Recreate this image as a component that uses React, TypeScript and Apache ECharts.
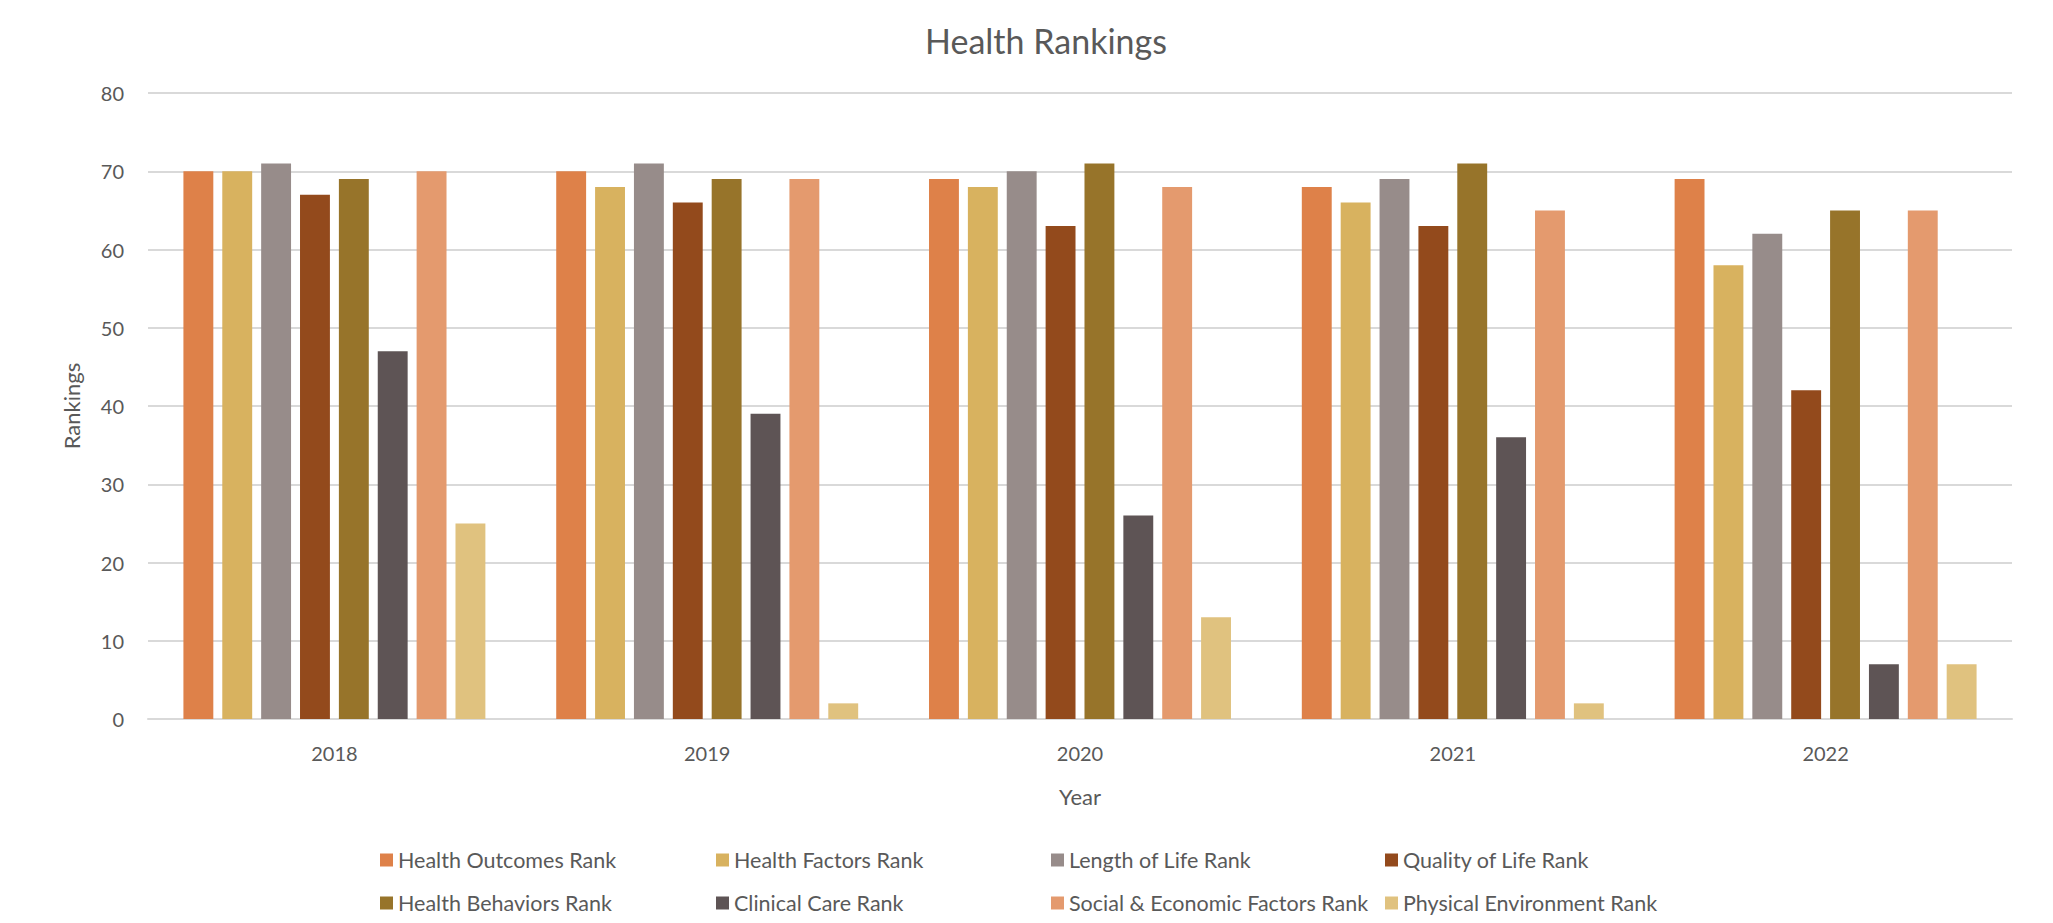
import React, { useEffect, useRef } from "react";
import * as echarts from "echarts";

const years = ["2018", "2019", "2020", "2021", "2022"];
const seriesNames = [
  "Health Outcomes Rank",
  "Health Factors Rank",
  "Length of Life Rank",
  "Quality of Life Rank",
  "Health Behaviors Rank",
  "Clinical Care Rank",
  "Social & Economic Factors Rank",
  "Physical Environment Rank",
];
const healthOutcomes = [70, 70, 69, 68, 69];
const healthFactors = [70, 68, 68, 66, 58];
const lengthOfLife = [71, 71, 70, 69, 62];
const qualityOfLife = [67, 66, 63, 63, 42];
const healthBehaviors = [69, 69, 71, 71, 65];
const clinicalCare = [47, 39, 26, 36, 7];
const socialEconomic = [70, 69, 68, 65, 65];
const physicalEnvironment = [25, 2, 13, 2, 7];
const yTicks = { min: 0, max: 80, interval: 10 };

const colors = ["#DE8149", "#D8B25F", "#978C8A", "#934A1C", "#97742A", "#5E5455", "#E49A6E", "#E0C27F"];
const allData = [healthOutcomes, healthFactors, lengthOfLife, qualityOfLife, healthBehaviors, clinicalCare, socialEconomic, physicalEnvironment];

const FONT = "Lato";
const TXT = "#595959";

export default function App() {
  const ref = useRef<HTMLDivElement>(null);
  useEffect(() => {
    if (!ref.current) return;
    const chart = echarts.init(ref.current, undefined, { renderer: "svg" });
    const legendLefts = [380, 716, 1051, 1385];
    const legendTops = [849, 892];
    const legends = seriesNames.map((n, i) => ({
      data: [n],
      left: legendLefts[i % 4],
      top: legendTops[Math.floor(i / 4)],
      padding: 0,
      itemWidth: 13,
      itemHeight: 13,
      itemGap: 8,
      icon: "rect",
      selectedMode: false,
      textStyle: { fontFamily: FONT, fontSize: 21.5, color: TXT, padding: [0, 0, 0, 0] },
    }));
    chart.setOption({
      animation: false,
      backgroundColor: "#ffffff",
      color: colors,
      title: {
        text: "Health Rankings",
        left: 1041,
        textAlign: "center",
        top: 18,
        textStyle: { fontFamily: FONT, fontSize: 34, fontWeight: "normal", color: TXT },
      },
      legend: legends,
      grid: { left: 148, right: 41, top: 93, bottom: 204, containLabel: false },
      xAxis: {
        type: "category",
        data: years,
        name: "Year",
        nameLocation: "middle",
        nameGap: 66,
        nameTextStyle: { fontFamily: FONT, fontSize: 22, color: TXT },
        axisLine: { lineStyle: { color: "#d9d9d9", width: 2 } },
        axisTick: { show: false },
        axisLabel: { fontFamily: FONT, fontSize: 20, color: TXT, margin: 24 },
      },
      yAxis: {
        type: "value",
        min: yTicks.min,
        max: yTicks.max,
        interval: yTicks.interval,
        name: "Rankings",
        nameLocation: "middle",
        nameGap: 66,
        nameTextStyle: { fontFamily: FONT, fontSize: 22, color: TXT },
        axisLine: { show: false },
        axisTick: { show: false },
        axisLabel: { fontFamily: FONT, fontSize: 20, color: TXT, margin: 24 },
        splitLine: { lineStyle: { color: "#d9d9d9", width: 2 } },
      },
      series: seriesNames.map((n, i) => ({
        name: n,
        type: "bar",
        data: allData[i],
        barGap: "30%",
        barCategoryGap: "19%",
        itemStyle: { color: colors[i] },
      })),
    });
    return () => chart.dispose();
  }, []);
  return <div ref={ref} style={{ position: "fixed", left: 0, top: 0, width: 2053, height: 923 }} />;
}
